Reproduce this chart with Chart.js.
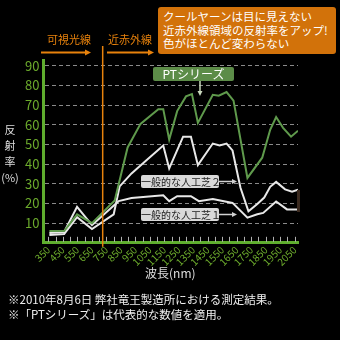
<!DOCTYPE html>
<html>
<head>
<meta charset="utf-8">
<script src="https://cdn.jsdelivr.net/npm/chart.js@4"></script>
<style>
body{margin:0;background:#000;}
#contenedor{position:relative;width:340px;height:340px;overflow:hidden;background:#000;font-family:"Noto Sans CJK JP",sans-serif;}
canvas{position:absolute;left:0;top:0;}
.texto{position:absolute;white-space:nowrap;line-height:1;}
</style>
</head>
<body>
<div id="contenedor">
<canvas id="grafica" width="340" height="340"></canvas>
<div class="texto" style="left:158px;top:7px;width:178px;height:47px;background:#d2720a;border-radius:3px;color:#fff;font-size:11.5px;line-height:13.5px;padding:3px 0 0 5px;box-sizing:border-box;">クールヤーンは目に見えない<br>近赤外線領域の反射率をアップ!<br>色がほとんど変わらない</div>
<div class="texto" style="left:47px;top:34px;color:#e8820c;font-size:11px;">可視光線</div>
<div class="texto" style="left:108px;top:34px;color:#e8820c;font-size:11px;">近赤外線</div>
<div class="texto" style="left:0px;top:121px;width:20px;text-align:center;color:#ddd;font-size:11px;line-height:16px;">反<br>射<br>率<br>(%)</div>
<div class="texto" style="left:145px;top:267px;color:#ddd;font-size:12px;">波長(nm)</div>
<div class="texto" style="left:153px;top:67px;width:81px;height:14px;background:#5c8c48;border-radius:2px;color:#fff;font-size:12px;line-height:14px;text-align:center;">PTシリーズ</div>
<div class="texto" style="left:141px;top:175px;width:78px;height:13px;background:#d9d9d9;border-radius:2px;color:#222;font-size:10px;line-height:13px;text-align:center;">一般的な人工芝２</div>
<div class="texto" style="left:141px;top:208px;width:78px;height:13px;background:#d9d9d9;border-radius:2px;color:#222;font-size:10px;line-height:13px;text-align:center;">一般的な人工芝１</div>
<div class="texto" style="left:297px;top:190px;width:3px;height:22px;background:#3b2a1f;"></div>
<div class="texto" style="left:8px;top:292px;color:#eee;font-size:11.5px;line-height:15px;">※2010年8月6日 弊社竜王製造所における測定結果。<br>※「PTシリーズ」は代表的な数値を適用。</div>
</div>
<script>
// longitudes de onda (nm) y reflectancia (%)
var ptOnda = [357, 459, 548, 651, 808, 897, 986, 1109, 1143, 1184, 1239, 1300, 1341, 1382, 1485, 1526, 1580, 1628, 1724, 1826, 1881, 1922, 1970, 2025, 2073];
var ptValor = [6, 6, 14.5, 10, 21.5, 48.5, 60.5, 68, 68, 52.5, 67, 74.5, 75.7, 61, 75.3, 74.8, 76.7, 72.3, 33, 43.3, 57.5, 64, 58.5, 54, 57];

var shiba1Onda = [357, 459, 548, 651, 835, 924, 1143, 1184, 1239, 1334, 1389, 1485, 1621, 1724, 1792, 1833, 1922, 1997, 2073];
var shiba1Valor = [5, 5.5, 18.3, 9, 21.2, 22.8, 24.2, 21.2, 23.7, 23.7, 21.2, 22.3, 20.3, 12.8, 14.5, 15.2, 21, 17, 17];

var shiba2Onda = [357, 459, 548, 651, 801, 842, 924, 1027, 1143, 1184, 1280, 1334, 1382, 1485, 1532, 1580, 1621, 1676, 1731, 1792, 1840, 1881, 1922, 1984, 2032, 2073];
var shiba2Valor = [4, 4.5, 13, 7, 14.5, 28.7, 35.3, 42, 49.5, 37.8, 54, 54, 39.5, 50.5, 49.5, 50.5, 47, 28, 16, 19.8, 23, 28.5, 31, 27.2, 26, 27];

var etiquetasX = [350, 450, 550, 650, 750, 850, 950, 1050, 1150, 1250, 1350, 1450, 1550, 1650, 1750, 1850, 1950, 2050];
var limiteVisible = 725;

function puntos(ondas, valores){
    var lista = [];
    for (var i = 0; i < ondas.length; i++){
        lista.push({x: ondas[i], y: valores[i]});
    }
    return lista;
}

function flecha(ctx, x1, y1, x2, y2, color, ancho, cabeza){
    var ang = Math.atan2(y2 - y1, x2 - x1);
    ctx.save();
    ctx.strokeStyle = color;
    ctx.fillStyle = color;
    ctx.lineWidth = ancho;
    ctx.beginPath();
    ctx.moveTo(x1, y1);
    ctx.lineTo(x2 - Math.cos(ang) * cabeza, y2 - Math.sin(ang) * cabeza);
    ctx.stroke();
    ctx.beginPath();
    ctx.moveTo(x2, y2);
    ctx.lineTo(x2 - Math.cos(ang) * cabeza - Math.sin(ang) * cabeza * 0.5, y2 - Math.sin(ang) * cabeza + Math.cos(ang) * cabeza * 0.5);
    ctx.lineTo(x2 - Math.cos(ang) * cabeza + Math.sin(ang) * cabeza * 0.5, y2 - Math.sin(ang) * cabeza - Math.cos(ang) * cabeza * 0.5);
    ctx.closePath();
    ctx.fill();
    ctx.restore();
}

const extras = {
    id: 'extras',
    afterDraw(chart){
        var ctx = chart.ctx;
        var xs = chart.scales.x;
        var area = chart.chartArea;
        // marcas del eje x hacia dentro
        ctx.save();
        ctx.strokeStyle = '#b0b0b0';
        ctx.lineWidth = 1;
        xs.ticks.forEach(function(t){
            var px = Math.round(xs.getPixelForValue(t.value)) + 0.5;
            ctx.beginPath();
            ctx.moveTo(px, area.bottom - 6);
            ctx.lineTo(px, area.bottom - 1);
            ctx.stroke();
        });
        // linea naranja visible / infrarrojo
        var lx = xs.getPixelForValue(limiteVisible);
        ctx.strokeStyle = '#e8820c';
        ctx.lineWidth = 1.5;
        ctx.beginPath();
        ctx.moveTo(lx, 46);
        ctx.lineTo(lx, area.bottom + 4);
        ctx.stroke();
        ctx.restore();
        flecha(ctx, 41, 52.5, 91, 52.5, '#e8820c', 2, 6);
        flecha(ctx, 107, 52.5, 154, 52.5, '#e8820c', 2, 6);
        flecha(ctx, 200, 81, 200, 96, '#c9d8bd', 1.5, 5);
        flecha(ctx, 219, 181.5, 237, 181.5, '#d0d0d0', 1.5, 5);
        flecha(ctx, 219, 214.5, 237, 214.5, '#d0d0d0', 1.5, 5);
    }
};

var ctx = document.getElementById('grafica').getContext('2d');
var myChart = new Chart(ctx, {
    type: 'line',
    data: {
        datasets: [{
            label: 'PTシリーズ',
            data: puntos(ptOnda, ptValor),
            borderColor: '#5f9a4c',
            borderWidth: 2,
            pointRadius: 0,
            tension: 0
        }, {
            label: '一般的な人工芝1',
            data: puntos(shiba1Onda, shiba1Valor),
            borderColor: '#e8e8e8',
            borderWidth: 2,
            pointRadius: 0,
            tension: 0
        }, {
            label: '一般的な人工芝2',
            data: puntos(shiba2Onda, shiba2Valor),
            borderColor: '#e8e8e8',
            borderWidth: 2,
            pointRadius: 0,
            tension: 0
        }]
    },
    options: {
        responsive: false,
        animation: false,
        devicePixelRatio: 1,
        layout: {padding: {left: 21, right: 42, top: 60, bottom: 71}},
        scales: {
            x: {
                type: 'linear',
                min: 316,
                max: 2073,
                grid: {display: false, drawTicks: false},
                border: {display: true, color: '#5fae2e', width: 3},
                ticks: {
                    stepSize: 50,
                    includeBounds: false,
                    autoSkip: false,
                    maxRotation: 45,
                    minRotation: 45,
                    padding: 1,
                    color: '#6cab2c',
                    font: {family: 'Noto Sans CJK JP', size: 10},
                    callback: function(value){
                        return etiquetasX.indexOf(value) >= 0 ? String(value) : '';
                    }
                }
            },
            y: {
                min: 0,
                max: 93,
                grid: {color: '#8a8a8a', lineWidth: 1, drawTicks: false},
                border: {display: true, color: '#5fae2e', width: 3, dash: [4, 3]},
                ticks: {
                    stepSize: 10,
                    includeBounds: false,
                    padding: 4,
                    color: '#6cab2c',
                    font: {family: 'Noto Sans CJK JP', size: 13},
                    callback: function(value){
                        return value === 0 ? '' : value;
                    }
                }
            }
        },
        plugins: {
            legend: {display: false},
            tooltip: {enabled: false}
        }
    },
    plugins: [extras]
});
</script>
</body>
</html>
